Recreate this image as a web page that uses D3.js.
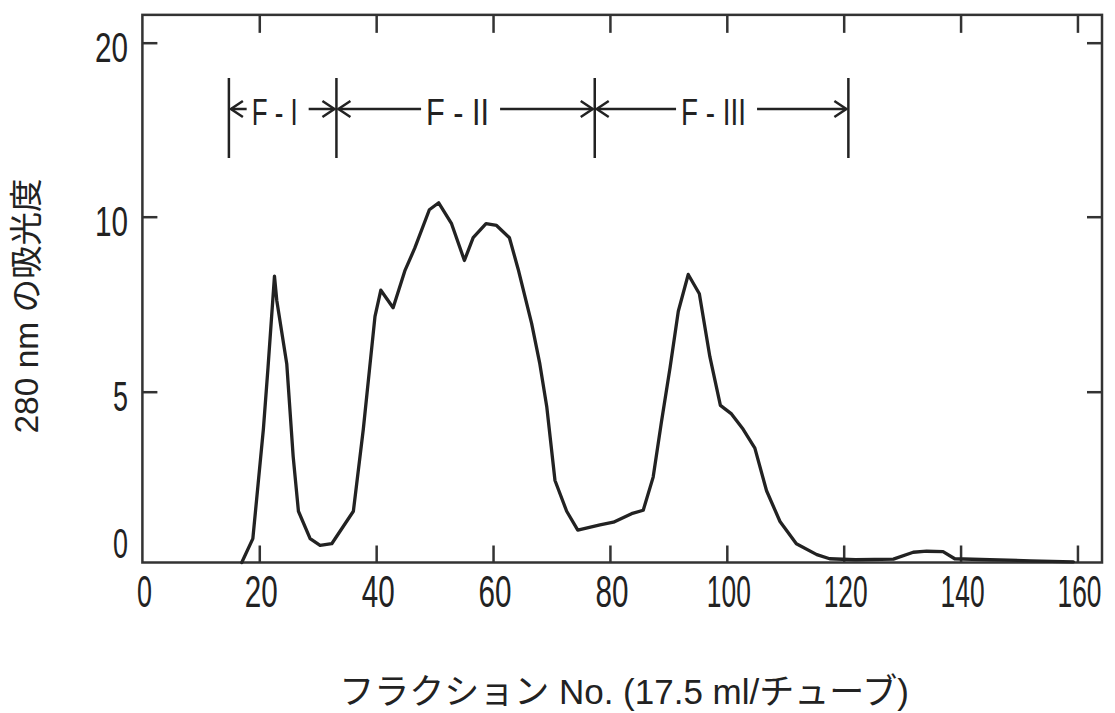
<!DOCTYPE html>
<html><head><meta charset="utf-8">
<script src="https://cdn.jsdelivr.net/npm/d3@7"></script>
<style>body{margin:0;background:#fff}</style>
</head><body>
<svg id="c" width="1115" height="713"></svg>
<script>
// ---- data ----
const fractionNo = [17, 18.9, 19.8, 20.7, 21.5, 22.6, 23.0, 24.7, 25.8, 26.7, 28.7, 30.4, 32.4,
  36.1, 37.8, 38.9, 39.8, 40.8, 42.9, 44.9, 46.6, 49.1, 50.7, 52.9, 55.1, 56.6, 58.8, 60.6,
  62.8, 64.3, 66.6, 68.0, 69.2, 70.6, 72.6, 74.5, 78.3, 80.6, 83.7, 85.7, 87.4, 88.8, 90.3,
  91.7, 93.4, 95.3, 97.1, 98.9, 100.8, 102.8, 104.8, 106.8, 109.1, 111.9, 115.4, 117.6,
  122, 128.5, 131.9, 134.2, 137.0, 139.0, 145, 152, 159.3];
const absorbance = [0, 0.7, 2.3, 3.9, 5.7, 8.3, 7.6, 5.8, 3.1, 1.5, 0.7, 0.5, 0.55,
  1.5, 3.9, 5.7, 7.15, 7.9, 7.4, 8.45, 9.1, 10.4, 10.8, 9.8, 8.75, 9.4, 9.8, 9.75,
  9.4, 8.5, 6.95, 5.8, 4.55, 2.4, 1.5, 0.95, 1.1, 1.18, 1.43, 1.53, 2.5, 4.1, 5.7,
  7.3, 8.35, 7.8, 6.0, 4.6, 4.35, 3.9, 3.35, 2.1, 1.2, 0.55, 0.23, 0.11,
  0.08, 0.1, 0.3, 0.33, 0.32, 0.11, 0.08, 0.05, 0.02];
const xTickValues = [0, 20, 40, 60, 80, 100, 120, 140, 160];
const yTickValues = [0, 5, 10, 20];
const fractionNames = ["F - I", "F - II", "F - III"];
const fractionBounds = [14.8, 33.2, 77.4, 120.8];
const xTitle = "フラクション No. (17.5 ml/チューブ)";
const yTitle = "280 nm の吸光度";

// ---- layout ----
const svg = d3.select("#c");
const ink = "#222";
const x = d3.scaleLinear().domain([0, 164.2]).range([142.4, 1102]);
// the printed axis spaces 0, 5, 10, 20 evenly
const y = d3.scaleLinear().domain([0, 5, 10, 20]).range([562.5, 391.7, 216.7, 42.7]);
const yTop = y(21.6);

// helper: narrow a text horizontally to a target width (keeps it real text)
function squeeze(sel, width, anchor) {
  sel.each(function (d) {
    const t = d3.select(this);
    const w0 = this.getComputedTextLength();
    const tw = typeof width === "function" ? width(d) : width;
    const s = tw / w0;
    const px = +t.attr("x"), py = +t.attr("y");
    t.attr("x", 0).attr("y", 0).attr("text-anchor", anchor)
      .attr("transform", `translate(${px},${py}) scale(${s},1)`);
  });
}

// frame
svg.append("rect")
  .attr("x", x(0)).attr("y", yTop)
  .attr("width", x(164.2) - x(0)).attr("height", y(0) - yTop)
  .attr("fill", "none").attr("stroke", "#333").attr("stroke-width", 2.5);

// inner ticks
const xt = xTickValues.filter(v => v > 0);
const yt = yTickValues.filter(v => v > 0);
svg.append("g").attr("transform", `translate(0,${y(0)})`)
  .call(d3.axisBottom(x).tickValues(xt).tickSizeInner(-17).tickSizeOuter(0).tickFormat(""))
  .call(g => g.select(".domain").remove())
  .selectAll("line").attr("stroke", "#333").attr("stroke-width", 2.5);
svg.append("g").attr("transform", `translate(0,${yTop})`)
  .call(d3.axisTop(x).tickValues(xt).tickSizeInner(-18).tickSizeOuter(0).tickFormat(""))
  .call(g => g.select(".domain").remove())
  .selectAll("line").attr("stroke", "#333").attr("stroke-width", 2.5);
svg.append("g").attr("transform", `translate(${x(0)},0)`)
  .call(d3.axisLeft(y).tickValues(yt).tickSizeInner(-15).tickSizeOuter(0).tickFormat(""))
  .call(g => g.select(".domain").remove())
  .selectAll("line").attr("stroke", "#333").attr("stroke-width", 2.5);
svg.append("g").attr("transform", `translate(${x(164.2)},0)`)
  .call(d3.axisRight(y).tickValues(yt).tickSizeInner(-15).tickSizeOuter(0).tickFormat(""))
  .call(g => g.select(".domain").remove())
  .selectAll("line").attr("stroke", "#333").attr("stroke-width", 2.5);

// tick labels (tall condensed digits)
const labW = d => { const s = String(d); return s.length === 1 ? 15 : s.length === 2 ? 33 : 44; };
svg.append("g").selectAll("text").data(xTickValues).join("text")
  .attr("x", d => x(d) + 2).attr("y", 607)
  .attr("font-family", "Liberation Sans, Arial, sans-serif").attr("font-size", 44)
  .attr("fill", ink)
  .text(d => d)
  .call(squeeze, labW, "middle");
svg.append("g").selectAll("text").data(yTickValues).join("text")
  .attr("x", 128).attr("y", d => d === 0 ? y(d) - 5 : y(d) + 19)
  .attr("font-family", "Liberation Sans, Arial, sans-serif").attr("font-size", 42)
  .attr("fill", ink)
  .text(d => d)
  .call(squeeze, labW, "end");

// curve
const pts = fractionNo.map((f, i) => [f, absorbance[i]]);
svg.append("path").datum(pts)
  .attr("d", d3.line().x(d => x(d[0])).y(d => y(d[1])))
  .attr("fill", "none").attr("stroke", ink).attr("stroke-width", 3.3)
  .attr("stroke-linejoin", "round").attr("stroke-linecap", "round");

// fraction ranges
const ann = svg.append("g").attr("stroke", ink).attr("stroke-width", 2.5).attr("fill", "none");
const barTop = 78, barBot = 158, arrowY = 109;
fractionBounds.forEach(b => {
  ann.append("line").attr("x1", x(b)).attr("x2", x(b)).attr("y1", barTop).attr("y2", barBot);
});
const txtW = [46, 63, 65];
fractionNames.forEach((name, i) => {
  const a = x(fractionBounds[i]), b = x(fractionBounds[i + 1]);
  const cx = (a + b) / 2 - 8;
  const w = txtW[i];
  svg.append("text").attr("x", cx).attr("y", 125)
    .attr("font-family", "Liberation Sans, Arial, sans-serif").attr("font-size", 37)
    .attr("fill", ink)
    .text(name)
    .call(squeeze, w, "middle");
  const l1 = cx - w / 2 - 5, r1 = cx + w / 2 + 11;
  ann.append("line").attr("x1", a + 2).attr("x2", l1).attr("y1", arrowY).attr("y2", arrowY);
  ann.append("line").attr("x1", r1).attr("x2", b - 2).attr("y1", arrowY).attr("y2", arrowY);
  ann.append("path").attr("d", `M${a + 14},${arrowY - 8} L${a + 2},${arrowY} L${a + 14},${arrowY + 8}`);
  ann.append("path").attr("d", `M${b - 14},${arrowY - 8} L${b - 2},${arrowY} L${b - 14},${arrowY + 8}`);
});

// axis titles
svg.append("text").attr("x", 624).attr("y", 704).attr("text-anchor", "middle")
  .attr("font-family", "Liberation Sans, Noto Sans CJK JP, sans-serif").attr("font-size", 35)
  .attr("fill", ink).text(xTitle);
svg.append("text").attr("transform", "translate(38,306) rotate(-90)").attr("text-anchor", "middle")
  .attr("font-family", "Liberation Sans, Noto Sans CJK JP, sans-serif").attr("font-size", 33.5)
  .attr("fill", ink).text(yTitle);
</script>
</body></html>
